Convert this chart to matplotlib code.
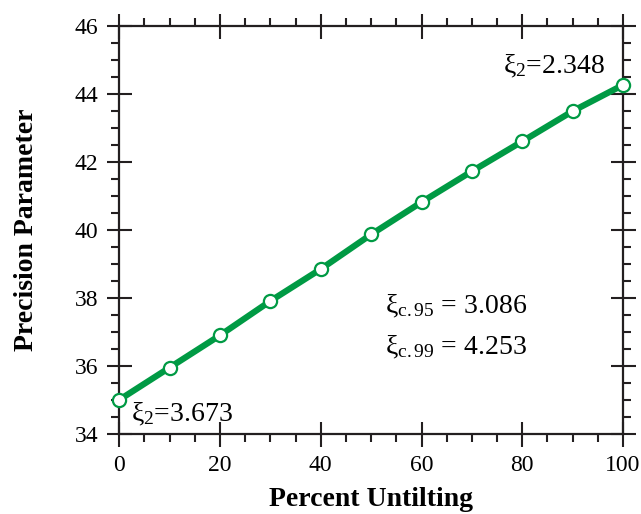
"""
Precision parameter vs percent untilting.
"""

import numpy as np
import matplotlib
matplotlib.use("Agg")
import matplotlib.pyplot as plt
from matplotlib.ticker import MultipleLocator

# ============================================================
# DATA
# ============================================================

untilting = [0, 10, 20, 30, 40, 50, 60, 70, 80, 90, 100]
precision = [35.0, 35.95, 36.9, 37.91, 38.85, 39.87, 40.82, 41.73, 42.61, 43.5, 44.27]

xi2_start = "3.673"
xi2_end = "2.348"
xi_c95 = "3.086"
xi_c99 = "4.253"

GREEN = "#009a44"

# ============================================================
# PLOT
# ============================================================

plt.rcParams["font.family"] = ["Liberation Serif", "DejaVu Serif"]
plt.rcParams["mathtext.fontset"] = "stix"

fig = plt.figure(figsize=(6.41, 5.14), dpi=100)
ax = fig.add_axes([0.186, 0.156, 0.786, 0.793])

ax.plot(untilting, precision, color=GREEN, linewidth=4.5,
        marker="o", markersize=9.5, markerfacecolor="white",
        markeredgecolor=GREEN, markeredgewidth=1.6, zorder=3,
        clip_on=False)

ax.set_xlim(0, 100)
ax.set_ylim(34, 46)

ax.xaxis.set_major_locator(MultipleLocator(20))
ax.xaxis.set_minor_locator(MultipleLocator(5))
ax.yaxis.set_major_locator(MultipleLocator(2))
ax.yaxis.set_minor_locator(MultipleLocator(0.5))

ax.tick_params(which="major", direction="inout", length=18, width=1.5,
               top=True, right=True, labelsize=17, pad=6, color="#231f20")
ax.tick_params(which="minor", direction="out", length=6, width=1.5,
               top=True, right=True, color="#231f20")

for s in ax.spines.values():
    s.set_linewidth(1.6)
    s.set_color("#231f20")

ax.set_xlabel("Percent Untilting", fontsize=20, fontweight="bold", labelpad=8)
ax.set_ylabel("Precision Parameter", fontsize=20, fontweight="bold", labelpad=26)

# annotations
ax.text(2.3, 34.35, r"$\mathregular{\xi_2}$=" + xi2_start, fontsize=20, va="baseline", ha="left")
ax.text(96.5, 44.62, r"$\mathregular{\xi_2}$=" + xi2_end, fontsize=20, va="baseline", ha="right")
ax.text(52.8, 37.55, r"$\mathregular{\xi_{c.95}}$ = " + xi_c95, fontsize=20, va="baseline", ha="left")
ax.text(52.8, 36.35, r"$\mathregular{\xi_{c.99}}$ = " + xi_c99, fontsize=20, va="baseline", ha="left")

plt.savefig("out.png", dpi=100)
